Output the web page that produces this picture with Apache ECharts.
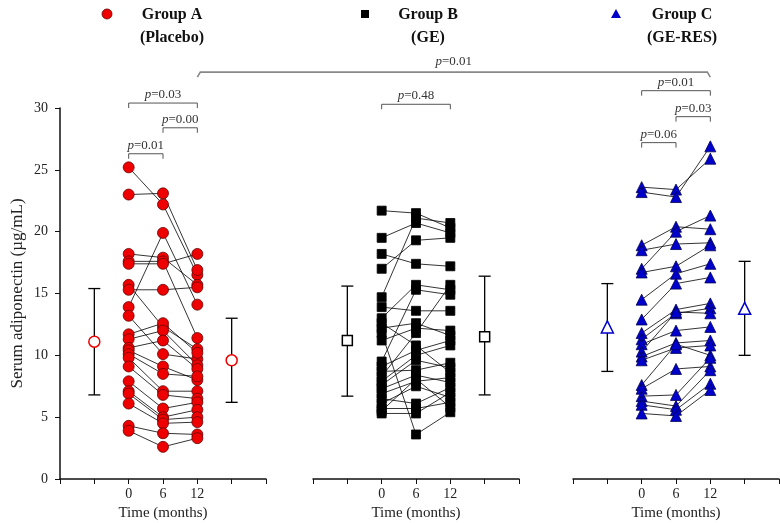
<!DOCTYPE html>
<html>
<head>
<meta charset="utf-8">
<title>Serum adiponectin</title>
<script src="https://cdn.jsdelivr.net/npm/echarts@6/dist/echarts.min.js"></script>
<style>
    body{margin:0;background:#fff;}
    #main{width:780px;height:523px;}
</style>
</head>
<body>
<div id="main"></div>
<script>
var months = [0, 6, 12];
var xTicks = ['0', '6', '12'];
var yTicks = [0, 5, 10, 15, 20, 25, 30];

// one row per subject: [month 0, month 6, month 12]
var groupA = [
    [25.2, 22.2, 16.5], [23.0, 23.1, 16.9], [18.2, 17.9, 15.7], [17.6, 17.6, 11.4],
    [17.4, 17.4, 18.2], [15.7, 12.3, 10.5], [15.3, 15.3, 15.5], [13.9, 19.9, 14.1],
    [13.2, 10.1, 9.7], [11.7, 12.6, 10.2], [11.3, 12.0, 9.2], [10.6, 11.2, 8.9],
    [10.4, 9.1, 8.0], [10.1, 8.5, 8.3], [9.8, 7.1, 7.1], [9.1, 6.8, 6.5],
    [7.9, 5.7, 6.2], [7.1, 5.0, 5.6], [6.9, 4.8, 5.0], [6.1, 4.5, 4.6],
    [4.3, 3.7, 3.6], [3.9, 2.6, 3.3]
];
var groupB = [
    [21.7, 21.5, 20.3], [19.5, 20.7, 19.9], [18.2, 17.4, 17.2], [17.0, 19.3, 19.5],
    [14.7, 21.1, 20.7], [13.9, 13.6, 13.6], [13.0, 15.7, 15.3], [12.6, 10.8, 8.6],
    [12.2, 12.6, 11.6], [11.8, 3.6, 5.4], [11.2, 12.2, 12.0], [9.5, 15.3, 14.9],
    [9.1, 10.4, 11.2], [8.7, 8.8, 9.4], [8.3, 11.8, 15.7], [7.9, 10.0, 10.8],
    [7.6, 9.6, 9.0], [7.3, 8.4, 7.8], [6.9, 7.9, 8.2], [6.5, 6.1, 7.4],
    [6.1, 7.5, 6.6], [5.7, 5.7, 6.2], [5.5, 8.1, 5.8], [5.3, 5.3, 7.0]
];
var groupC = [
    [23.6, 23.4, 25.9], [23.2, 22.8, 26.9], [18.9, 20.4, 20.2], [18.5, 19.0, 19.1],
    [17.0, 20.0, 21.3], [16.7, 17.2, 18.9], [14.5, 16.6, 17.4], [12.9, 15.8, 16.3],
    [11.8, 13.7, 14.2], [11.3, 13.4, 13.8], [10.9, 12.0, 12.3], [10.3, 13.5, 13.4],
    [9.9, 11.0, 11.2], [9.6, 10.6, 10.8], [7.6, 10.9, 10.0], [7.3, 8.9, 9.1],
    [6.7, 6.8, 9.8], [6.3, 5.9, 8.8], [6.0, 5.6, 7.7], [5.3, 5.1, 7.2]
];

// mean, low, high (mean ± SD) drawn before and after the time points
var summaryX = [-6, 18];
var summaryA = [[11.1, 6.8, 15.4], [9.6, 6.2, 13.0]];
var summaryB = [[11.2, 6.7, 15.6], [11.5, 6.8, 16.4]];
var summaryC = [[12.3, 8.7, 15.8], [13.8, 10.0, 17.6]];

// significance brackets
var pGrid = [0, 0, 0, 1, 2, 2, 2];
var pFrom = [0, 6, 0, 0, 0, 6, 0];
var pTo = [6, 12, 12, 12, 12, 12, 6];
var pLevel = [26.3, 28.4, 30.4, 30.3, 31.4, 29.3, 27.2];
var pText = ['0.01', '0.00', '0.03', '0.48', '0.01', '0.03', '0.06'];
var crossLevel = 32.9, crossText = '0.01';

var serif = '"Liberation Serif", "Times New Roman", serif';
var chart = echarts.init(document.getElementById('main'));

function xAxis(g) {
    return {
        type: 'value', gridIndex: g, min: -12, max: 24, interval: 6,
        name: 'Time (months)', nameLocation: 'middle', nameGap: 26,
        nameTextStyle: {fontFamily: serif, fontSize: 15, color: '#222'},
        axisLine: {onZero: false, lineStyle: {color: '#111', width: 1.5}},
        axisTick: {length: 5, lineStyle: {color: '#111', width: 1}},
        axisLabel: {
            fontFamily: serif, fontSize: 14, color: '#222', margin: 8,
            formatter: function (v) {
                var i = months.indexOf(v);
                return i >= 0 ? xTicks[i] : '';
            }
        },
        splitLine: {show: false}
    };
}
function yAxis(g) {
    return {
        type: 'value', gridIndex: g, min: yTicks[0], max: yTicks[yTicks.length - 1], interval: 5,
        show: g === 0,
        name: 'Serum adiponectin (\u00b5g/mL)', nameLocation: 'middle', nameGap: 34,
        nameTextStyle: {fontFamily: serif, fontSize: 17, color: '#222'},
        axisLine: {show: true, onZero: false, lineStyle: {color: '#111', width: 1.5}},
        axisTick: {length: 5, lineStyle: {color: '#111'}},
        axisLabel: {fontFamily: serif, fontSize: 14, color: '#222', margin: 12},
        splitLine: {show: false}
    };
}

function subjectLines(rows, g) {
    return rows.map(function (r) {
        return {
            type: 'line', xAxisIndex: g, yAxisIndex: g, silent: true, symbol: 'none', z: 2,
            data: months.map(function (m, i) { return [m, r[i]]; }),
            lineStyle: {color: '#000', width: 0.8}
        };
    });
}
function markers(rows, g, symbol, size, fill, border) {
    var pts = [];
    rows.forEach(function (r) {
        months.forEach(function (m, i) { pts.push([m, r[i]]); });
    });
    return {
        type: 'scatter', xAxisIndex: g, yAxisIndex: g, data: pts, z: 4,
        symbol: symbol, symbolSize: size,
        itemStyle: {color: fill, borderColor: border, borderWidth: 0.8, opacity: 1}
    };
}
function errorBars(summary, g) {
    return {
        type: 'custom', xAxisIndex: g, yAxisIndex: g, z: 3,
        data: summary.map(function (s, i) { return [summaryX[i], s[0], s[1], s[2]]; }),
        encode: {x: 0, y: [1, 2, 3]},
        renderItem: function (params, api) {
            var hi = api.coord([api.value(0), api.value(3)]);
            var lo = api.coord([api.value(0), api.value(2)]);
            var w = 6, st = {stroke: '#000', lineWidth: 1.3};
            return {type: 'group', children: [
                {type: 'line', shape: {x1: hi[0], y1: hi[1], x2: lo[0], y2: lo[1]}, style: st},
                {type: 'line', shape: {x1: hi[0] - w, y1: hi[1], x2: hi[0] + w, y2: hi[1]}, style: st},
                {type: 'line', shape: {x1: lo[0] - w, y1: lo[1], x2: lo[0] + w, y2: lo[1]}, style: st}
            ]};
        }
    };
}
function means(summary, g, symbol, size, color) {
    return {
        type: 'scatter', xAxisIndex: g, yAxisIndex: g, z: 5,
        data: summary.map(function (s, i) { return [summaryX[i], s[0]]; }),
        symbol: symbol, symbolSize: size,
        itemStyle: {color: '#fff', borderColor: color, borderWidth: 1.5, opacity: 1}
    };
}

var series = [].concat(
    subjectLines(groupA, 0), subjectLines(groupB, 1), subjectLines(groupC, 2),
    [markers(groupA, 0, 'circle', 11, '#ee0000', '#6a0000'),
     markers(groupB, 1, 'rect', 9, '#000', '#000'),
     markers(groupC, 2, 'triangle', 11, '#0000cc', '#000055'),
     errorBars(summaryA, 0), errorBars(summaryB, 1), errorBars(summaryC, 2),
     means(summaryA, 0, 'circle', 11, '#ee0000'),
     means(summaryB, 1, 'rect', 10, '#000'),
     means(summaryC, 2, 'triangle', 12, '#0000cc')]
);

chart.setOption({
    animation: false,
    grid: [
        {left: 60, width: 206, top: 108, bottom: 44, outerBoundsMode: 'none'},
        {left: 313, width: 206, top: 108, bottom: 44, outerBoundsMode: 'none'},
        {left: 573, width: 206, top: 108, bottom: 44, outerBoundsMode: 'none'}
    ],
    xAxis: [xAxis(0), xAxis(1), xAxis(2)],
    yAxis: [yAxis(0), yAxis(1), yAxis(2)],
    series: series
});

// brackets and legend drawn on top, positioned from the axes
var rich = {i: {fontStyle: 'italic', fontFamily: serif, fontSize: 13, color: '#333'}};
function pLabel(x, y, t) {
    return {type: 'text', x: x, y: y, z: 10, style: {
        text: '{i|p}=' + t, rich: rich, fontFamily: serif, fontSize: 13, fill: '#333',
        align: 'center', verticalAlign: 'bottom'
    }};
}
var graphics = [];
pGrid.forEach(function (g, k) {
    var a = chart.convertToPixel({gridIndex: g}, [pFrom[k], pLevel[k]]);
    var b = chart.convertToPixel({gridIndex: g}, [pTo[k], pLevel[k]]);
    graphics.push({type: 'polyline', z: 10, shape: {points: [[a[0], a[1] + 5], [a[0], a[1]], [b[0], b[1]], [b[0], b[1] + 5]]},
        style: {stroke: '#555', lineWidth: 1, fill: null}});
    graphics.push(pLabel((a[0] + b[0]) / 2, a[1] - 2, pText[k]));
});
var c1 = chart.convertToPixel({gridIndex: 0}, [12, crossLevel]);
var c2 = chart.convertToPixel({gridIndex: 2}, [12, crossLevel]);
graphics.push({type: 'polyline', z: 10, shape: {points: [[c1[0], c1[1] + 5], [c1[0] + 3, c1[1]], [c2[0] - 3, c2[1]], [c2[0], c2[1] + 5]]},
    style: {stroke: '#888', lineWidth: 1.6, fill: null}});
graphics.push(pLabel((c1[0] + c2[0]) / 2, c1[1] - 4, crossText));

// legend
var legendFont = {fontFamily: serif, fontSize: 16, fontWeight: 'bold', fill: '#111', align: 'center', verticalAlign: 'middle'};
function legendText(x, y, t) {
    return {type: 'text', x: x, y: y, style: Object.assign({text: t}, legendFont)};
}
graphics.push({type: 'circle', shape: {cx: 107, cy: 14, r: 5}, style: {fill: '#ee0000', stroke: '#6a0000', lineWidth: 0.8}});
graphics.push(legendText(172, 15, 'Group A'), legendText(172, 38, '(Placebo)'));
graphics.push({type: 'rect', shape: {x: 361, y: 10, width: 8, height: 8}, style: {fill: '#000'}});
graphics.push(legendText(428, 15, 'Group B'), legendText(428, 38, '(GE)'));
graphics.push({type: 'polygon', shape: {points: [[616, 9], [621, 18], [611, 18]]}, style: {fill: '#0000cc'}});
graphics.push(legendText(682, 15, 'Group C'), legendText(682, 38, '(GE-RES)'));

chart.setOption({graphic: graphics});
</script>
</body>
</html>
